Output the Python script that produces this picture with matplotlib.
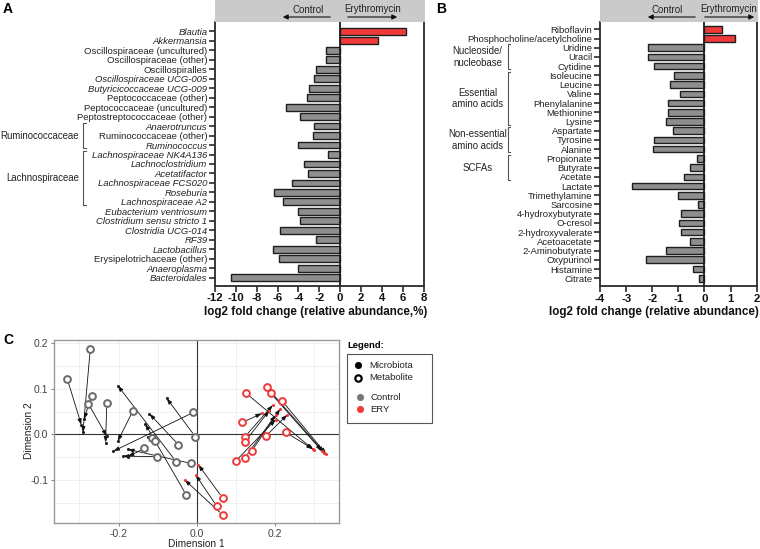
import matplotlib
matplotlib.use('Agg')
import matplotlib.pyplot as plt
from matplotlib.lines import Line2D
from matplotlib.patches import Rectangle, FancyArrowPatch
import matplotlib.transforms as mtransforms

plt.rcParams['font.family'] = ['Liberation Sans', 'DejaVu Sans']

# ---------------- data: panel A ----------------
taxa = ['Blautia', 'Akkermansia', 'Oscillospiraceae (uncultured)', 'Oscillospiraceae (other)',
        'Oscillospiralles', 'Oscillospiraceae UCG-005', 'Butyricicoccaceae UCG-009',
        'Peptococcaceae (other)', 'Peptococcaceae (uncultured)', 'Peptostreptococcaceae (other)',
        'Anaerotruncus', 'Ruminococcaceae (other)', 'Ruminococcus', 'Lachnospiraceae NK4A136',
        'Lachnoclostridium', 'Acetatifactor', 'Lachnospiraceae FCS020', 'Roseburia',
        'Lachnospiraceae A2', 'Eubacterium ventriosum', 'Clostridium sensu stricto 1',
        'Clostridia UCG-014', 'RF39', 'Lactobacillus', 'Erysipelotrichaceae (other)',
        'Anaeroplasma', 'Bacteroidales']
taxa_italic = [1, 1, 0, 0, 0, 1, 1, 0, 0, 0, 1, 0, 1, 1, 1, 1, 1, 1, 1, 1, 1, 1, 1, 1, 0, 1, 1]
taxa_lfc = [6.34, 3.67, -1.38, -1.38, -2.35, -2.51, -2.99, -3.15, -5.15, -3.89,
            -2.51, -2.57, -4.05, -1.19, -3.51, -3.09, -4.57, -6.31, -5.50, -4.05,
            -3.80, -5.73, -2.35, -6.40, -5.89, -4.02, -10.42]
taxa_groups = [('Ruminococcaceae', 10, 12), ('Lachnospiraceae', 13, 18)]
a_xticks = [-12, -10, -8, -6, -4, -2, 0, 2, 4, 6, 8]

# ---------------- data: panel B ----------------
metabolites = ['Riboflavin', 'Phosphocholine/acetylcholine', 'Uridine', 'Uracil', 'Cytidine',
               'Isoleucine', 'Leucine', 'Valine', 'Phenylalanine', 'Methionine', 'Lysine',
               'Aspartate', 'Tyrosine', 'Alanine', 'Propionate', 'Butyrate', 'Acetate',
               'Lactate', 'Trimethylamine', 'Sarcosine', '4-hydroxybutyrate', 'O-cresol',
               '2-hydroxyvalerate', 'Acetoacetate', '2-Aminobutyrate', 'Oxypurinol',
               'Histamine', 'Citrate']
metab_lfc = [0.69, 1.18, -2.15, -2.15, -1.93, -1.16, -1.32, -0.93, -1.39, -1.39, -1.48,
             -1.19, -1.95, -1.98, -0.29, -0.57, -0.78, -2.78, -1.03, -0.23, -0.91, -0.96,
             -0.89, -0.57, -1.46, -2.25, -0.45, -0.22]
metab_groups = [('Nucleoside/\nnucleobase', 2, 4), ('Essential\namino acids', 5, 10),
                ('Non-essential\namino acids', 11, 13), ('SCFAs', 14, 16)]
b_xticks = [-4, -3, -2, -1, 0, 1, 2]

# ---------------- data: panel C (Procrustes) ----------------
ctrl_metab_x = [-0.331, -0.272, -0.269, -0.277, -0.230, -0.163, -0.009, -0.004,
                -0.047, -0.053, -0.027, -0.134, -0.102, -0.014, -0.115, -0.106]
ctrl_metab_y = [0.122, 0.188, 0.084, 0.067, 0.068, 0.052, 0.048, -0.005,
                -0.023, -0.060, -0.133, -0.031, -0.049, -0.064, -0.009, -0.015]
ctrl_micro_x = [-0.295, -0.291, -0.288, -0.230, -0.233, -0.202, -0.213, -0.077,
                -0.121, -0.202, -0.132, -0.176, -0.189, -0.176, -0.125, -0.117]
ctrl_micro_y = [0.021, 0.004, 0.033, -0.004, -0.018, -0.015, -0.037, 0.079,
                0.045, 0.107, 0.023, -0.049, -0.048, -0.033, -0.005, -0.007]
ery_metab_x = [0.126, 0.179, 0.189, 0.217, 0.227, 0.116, 0.123, 0.123,
               0.176, 0.140, 0.123, 0.099, 0.051, 0.066, 0.066]
ery_metab_y = [0.090, 0.103, 0.090, 0.074, 0.004, 0.026, -0.005, -0.016,
               -0.004, -0.037, -0.051, -0.059, -0.158, -0.140, -0.177]
ery_micro_x = [0.298, 0.325, 0.319, 0.330, 0.296, 0.166, 0.194, 0.185,
               0.231, 0.213, 0.201, 0.201, -0.003, 0.004, -0.031]
ery_micro_y = [-0.034, -0.040, -0.036, -0.043, -0.032, 0.046, 0.064, 0.052,
               0.043, 0.056, 0.042, 0.032, -0.089, -0.067, -0.100]

RED = '#f03a3a'
GRAYBAR = '#8e8e8e'
DARK = '#1e1e1e'

W, H = 760, 549
def fx(px):
    return px / W
def fy(py):
    return 1 - py / H

fig = plt.figure(figsize=(7.6, 5.49), dpi=100)


def bar_panel(left, right, top, bottom, labels, vals, italic, xlim, xticks, ylim):
    ax = fig.add_axes([fx(left), fy(bottom), fx(right) - fx(left), fy(top) - fy(bottom)])
    ypos = list(range(len(labels)))
    colors = [RED if v > 0 else GRAYBAR for v in vals]
    ax.barh(ypos, vals, height=0.72, color=colors, edgecolor=DARK, linewidth=1.0, zorder=2)
    ax.set_xlim(*xlim)
    ax.set_ylim(*ylim)
    ax.set_yticks(ypos)
    ax.set_yticklabels(labels, fontsize=6.8, color='#222222')
    for t, it in zip(ax.get_yticklabels(), italic):
        if it:
            t.set_style('italic')
    ax.set_xticks(xticks)
    ax.set_xticklabels([str(v) for v in xticks], fontsize=8.2, fontweight='bold', color='#111111')
    ax.axvline(0, color=DARK, lw=1.3, zorder=3)
    ax.spines['top'].set_visible(False)
    for s in ['left', 'right', 'bottom']:
        ax.spines[s].set_linewidth(1.3)
        ax.spines[s].set_color('#2a2a2a')
    ax.tick_params(axis='y', length=4, width=1.2, pad=1.5, color='#2a2a2a')
    ax.tick_params(axis='x', length=4, width=1.2, pad=1.5, color='#2a2a2a')
    return ax


def header(x0, x1, ctrl_x, ctrl_a0, ctrl_a1, ery_x, ery_a0, ery_a1):
    fig.add_artist(Rectangle((fx(x0), fy(22)), fx(x1) - fx(x0), fy(0) - fy(22),
                             transform=fig.transFigure, facecolor='#cacaca', edgecolor='none'))
    fig.text(fx(ctrl_x), fy(10), 'Control', ha='center', va='center', fontsize=7, color='#222222')
    fig.text(fx(ery_x), fy(9), 'Erythromycin', ha='center', va='center', fontsize=7, color='#222222')
    for a0, a1 in [(ctrl_a0, ctrl_a1), (ery_a0, ery_a1)]:
        fig.add_artist(FancyArrowPatch((fx(a0), fy(17)), (fx(a1), fy(17)), transform=fig.transFigure,
                                       arrowstyle='-|>,head_length=3,head_width=1.5',
                                       color='#111111', lw=0.8, mutation_scale=1))


def brackets(ax, groups, xline, xtick, xtext, ha, pad=0.35):
    tr = mtransforms.blended_transform_factory(fig.transFigure, ax.transData)
    for name, r0, r1 in groups:
        y0, y1 = r0 - pad, r1 + pad
        ax.add_line(Line2D([fx(xtick), fx(xline), fx(xline), fx(xtick)], [y0, y0, y1, y1],
                           transform=tr, color='#555555', lw=0.8, clip_on=False))
        ax.text(fx(xtext), (r0 + r1) / 2, name, transform=tr, ha=ha, va='center',
                fontsize=6.9, color='#222222', linespacing=1.2, multialignment='center')


# ---------------- Panel A ----------------
axA = bar_panel(215, 423.5, 22, 285.7, taxa, taxa_lfc, taxa_italic, (-12, 8), a_xticks,
                (26.84, -0.98))
fig.text(fx(315.5), fy(312), 'log2 fold change (relative abundance,%)', fontsize=8.4,
         fontweight='bold', ha='center', va='center', color='#111111')
header(215, 425, 308, 333, 280, 373, 345, 400)
brackets(axA, taxa_groups, 83, 86, 79, 'right')

# ---------------- Panel B ----------------
axB = bar_panel(600, 756.7, 22, 286, metabolites, metab_lfc, [0] * len(metabolites), (-4, 2),
                b_xticks, (27.84, -0.79))
fig.text(fx(759), fy(312), 'log2 fold change (relative abundance)', fontsize=8.4,
         fontweight='bold', ha='right', va='center', color='#111111')
header(600, 758, 667, 698, 645, 729, 702, 757)
brackets(axB, metab_groups, 507.5, 510, 477.5, 'center')

# ---------------- Panel C ----------------
axC = fig.add_axes([fx(54.3), fy(522.7), fx(339) - fx(54.3), fy(340) - fy(522.7)])
axC.set_xlim(-0.364, 0.363)
axC.set_ylim(-0.194, 0.207)
axC.set_xticks([-0.2, 0.0, 0.2])
axC.set_xticklabels(['-0.2', '0.0', '0.2'])
axC.set_yticks([-0.1, 0.0, 0.1, 0.2])
axC.set_yticklabels(['-0.1', '0.0', '0.1', '0.2'])
axC.set_xticks([-0.3, -0.1, 0.1, 0.3], minor=True)
axC.set_yticks([-0.15, -0.05, 0.05, 0.15], minor=True)
axC.grid(True, which='both', color='#ececec', lw=0.6)
axC.set_axisbelow(True)
axC.tick_params(which='minor', length=0)
axC.tick_params(which='major', length=2.5, width=0.6, color='#666666', labelsize=7.5,
                labelcolor='#444444', pad=2)
for s in axC.spines.values():
    s.set_color('#9a9a9a')
    s.set_linewidth(1.0)
axC.axhline(0, color='#333333', lw=0.8, zorder=1)
axC.axvline(0, color='#333333', lw=0.8, zorder=1)
fig.text(fx(196.5), fy(544), 'Dimension 1', fontsize=7.3, color='#222222', ha='center', va='center')
fig.text(fx(29), fy(431), 'Dimension 2', fontsize=7.3, color='#222222', ha='center', va='center',
         rotation=90)

for mx_, my_, px_, py_, col, ring in [
        (ctrl_metab_x, ctrl_metab_y, ctrl_micro_x, ctrl_micro_y, '#222222', '#6a6a6a'),
        (ery_metab_x, ery_metab_y, ery_micro_x, ery_micro_y, RED, RED)]:
    for a, b, c, d in zip(mx_, my_, px_, py_):
        axC.annotate('', xy=(c, d), xytext=(a, b),
                     arrowprops=dict(arrowstyle='-|>,head_length=0.35,head_width=0.12',
                                     color='#111111', lw=0.6, shrinkA=3, shrinkB=0),
                     zorder=3)
    axC.scatter(px_, py_, s=5, color=col, zorder=4, linewidths=0)
    axC.scatter(mx_, my_, s=24, facecolors='white', edgecolors=ring, linewidths=1.4, zorder=5)

# legend for panel C
fig.text(fx(347), fy(346), 'Legend:', fontsize=6.8, fontweight='bold', va='center', ha='left')
fig.add_artist(Rectangle((fx(346.7), fy(423)), fx(432.3) - fx(346.7), fy(354.3) - fy(423),
                         transform=fig.transFigure, facecolor='white', edgecolor='#555555', lw=0.8))
leg_items = [(358.3, 365.0, 'Microbiota', 'black', 'black'),
             (358.3, 377.7, 'Metabolite', 'white', 'black'),
             (359.7, 397.3, 'Control', '#777777', '#777777'),
             (359.7, 409.0, 'ERY', RED, RED)]
for x, y, lab, fc, ec in leg_items:
    fig.add_artist(Line2D([fx(x)], [fy(y)], marker='o', markersize=4.6, markerfacecolor=fc,
                          markeredgecolor=ec, markeredgewidth=1.6 if fc == 'white' else 0.5,
                          transform=fig.transFigure))
    fig.text(fx(x + 11), fy(y), lab, fontsize=6.8, va='center', ha='left', color='#222222')

# panel letters
fig.text(fx(3), fy(9), 'A', fontsize=10, fontweight='bold', va='center', ha='left')
fig.text(fx(436), fy(9), 'B', fontsize=10, fontweight='bold', va='center', ha='left')
fig.text(fx(3), fy(340), 'C', fontsize=10, fontweight='bold', va='center', ha='left')

fig.savefig('out.png', dpi=100)
